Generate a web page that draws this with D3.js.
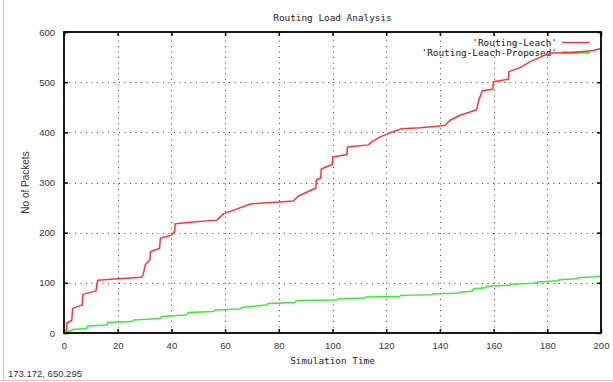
<!DOCTYPE html>
<html>
<head>
<meta charset="utf-8">
<script src="https://cdn.jsdelivr.net/npm/d3@7"></script>
<style>
  html, body { margin: 0; padding: 0; background: #fff; }
  svg { display: block; }
</style>
</head>
<body>
<script>
// Cumulative routing packets over simulation time
const leachTime = [1.0, 1.0, 2.9, 3.2, 6.8, 7.0, 11.9, 12.5, 20.0, 28.9, 29.5, 30.3, 32.0, 32.2, 35.6, 35.9, 39.8, 41.2, 41.4, 47.0, 56.9, 59.5, 64.3, 69.3, 74.2, 80.4, 85.4, 87.3, 92.2, 93.8, 94.0, 95.6, 95.8, 99.9, 100.1, 105.3, 105.6, 113.3, 114.6, 117.7, 121.4, 125.8, 132.6, 138.8, 141.9, 143.8, 147.5, 153.7, 154.4, 155.8, 159.7, 159.9, 165.5, 165.7, 169.8, 173.6, 179.1, 182.2, 189.7, 197.1, 200.0];
const leachPackets = [0, 20, 25, 49, 56, 77, 84, 105, 108, 111, 117, 136, 146, 162, 169, 189, 195, 202, 218, 221, 225, 238, 247, 257, 259, 261, 263, 273, 285, 289, 305, 309, 327, 336, 351, 356, 371, 375, 381, 391, 399, 407, 409, 412, 414, 424, 434, 445, 463, 483, 486, 501, 506, 521, 529, 541, 554, 558, 559, 563, 567];

const proposedTime = [1.0, 1.6, 3.5, 8.4, 8.7, 15.9, 16.3, 25.2, 25.8, 35.8, 36.4, 45.7, 46.3, 55.6, 56.2, 65.5, 66.2, 75.5, 76.1, 86.0, 86.6, 101.6, 102.0, 112.0, 112.5, 125.0, 125.5, 137.0, 137.5, 147.0, 147.5, 152.0, 152.5, 157.0, 157.5, 166.0, 166.5, 175.0, 175.5, 184.0, 184.5, 191.0, 191.5, 198.0, 200.0];
const proposedPackets = [0, 3, 7, 9, 14, 16, 21, 23, 26, 29, 33, 36, 41, 43, 46, 48, 51, 56, 59, 61, 65, 66, 68, 70, 72, 73, 75, 76, 78, 79, 81, 83, 88, 90, 93, 95, 97, 99, 101, 104, 106, 108, 110, 112, 113];

const xTicks = [0, 20, 40, 60, 80, 100, 120, 140, 160, 180, 200];
const yTicks = [0, 100, 200, 300, 400, 500, 600];

const seriesNames = ["'Routing-Leach'", "'Routing-Leach-Proposed'"];
const seriesColors = ["#ff3535", "#3aea3a"];

const titleText = "Routing Load Analysis";
const xLabel = "Simulation Time";
const yLabel = "No of Packets";
const statusText = "173.172, 650.295";

const W = 613, H = 382;
const plotLeft = 64, plotRight = 601, plotTop = 32, plotBottom = 333;

const svg = d3.select("body").append("svg")
  .attr("width", W).attr("height", H);

const x = d3.scaleLinear().domain([0, 200]).range([plotLeft, plotRight]);
const y = d3.scaleLinear().domain([0, 600]).range([plotBottom, plotTop]);

const mono = "'DejaVu Sans Mono', 'Liberation Mono', monospace";
const sans = "'Liberation Sans', Arial, sans-serif";

// window frame lines
svg.append("line").attr("x1", 3.5).attr("x2", 3.5).attr("y1", 0).attr("y2", 381)
  .attr("stroke", "#c8c8c8").attr("stroke-width", 1);
svg.append("line").attr("x1", 0).attr("x2", W).attr("y1", 380.5).attr("y2", 380.5)
  .attr("stroke", "#c8c8c8").attr("stroke-width", 1);

// dotted grid
const grid = svg.append("g").attr("stroke", "#444").attr("stroke-width", 1)
  .attr("stroke-dasharray", "1,4.5");
grid.selectAll("line.gx").data(xTicks.slice(1, -1)).enter().append("line")
  .attr("x1", d => Math.round(x(d)) + 0.5).attr("x2", d => Math.round(x(d)) + 0.5)
  .attr("y1", plotBottom).attr("y2", plotTop);
grid.selectAll("line.gy").data(yTicks.slice(1, -1)).enter().append("line")
  .attr("y1", d => Math.round(y(d)) + 0.5).attr("y2", d => Math.round(y(d)) + 0.5)
  .attr("x1", plotLeft).attr("x2", plotRight);

// axes: labels outside, inward ticks on all four sides
const xAxis = d3.axisBottom(x).tickValues(xTicks).tickSize(-4).tickPadding(9)
  .tickFormat(d3.format("d"));
const yAxis = d3.axisLeft(y).tickValues(yTicks).tickSize(-4).tickPadding(9)
  .tickFormat(d3.format("d"));
const xTop = d3.axisTop(x).tickValues(xTicks).tickSize(-4).tickFormat("");
const yRight = d3.axisRight(y).tickValues(yTicks).tickSize(-4).tickFormat("");

function styleAxis(g) {
  g.select(".domain").remove();
  g.selectAll(".tick line").attr("stroke", "#000").attr("stroke-width", 1.5);
  g.selectAll(".tick text").attr("fill", "#333")
    .style("font-family", sans).style("font-size", "9.5px");
}
svg.append("g").attr("transform", `translate(0,${plotBottom})`).call(xAxis).call(styleAxis);
svg.append("g").attr("transform", `translate(${plotLeft},0)`).call(yAxis).call(styleAxis);
svg.append("g").attr("transform", `translate(0,${plotTop})`).call(xTop).call(styleAxis);
svg.append("g").attr("transform", `translate(${plotRight},0)`).call(yRight).call(styleAxis);

// data lines
const series = [
  leachTime.map((t, i) => [t, leachPackets[i]]),
  proposedTime.map((t, i) => [t, proposedPackets[i]])
];
const line = d3.line().x(d => x(d[0])).y(d => y(d[1]));

// legend samples (drawn first so the red curve crosses over them)
const legend = svg.append("g");
seriesNames.forEach((name, i) => {
  const ly = 42 + i * 10;
  legend.append("text").attr("x", 557).attr("y", ly + 3.5)
    .attr("text-anchor", "end").attr("fill", "#111")
    .style("font-family", mono).style("font-size", "9.4px")
    .text(name);
  legend.append("line").attr("x1", 562).attr("x2", 590)
    .attr("y1", ly + 0.5).attr("y2", ly + 0.5)
    .attr("stroke", seriesColors[i]).attr("stroke-width", i === 1 ? 2.5 : 1.3);
});

svg.append("g").selectAll("path").data(series).enter().append("path")
  .attr("d", line)
  .attr("fill", "none")
  .attr("stroke", (d, i) => seriesColors[i])
  .attr("stroke-width", 1.5)
  .attr("stroke-linejoin", "round");

// plot border
svg.append("rect").attr("x", plotLeft).attr("y", plotTop)
  .attr("width", plotRight - plotLeft).attr("height", plotBottom - plotTop)
  .attr("fill", "none").attr("stroke", "#000").attr("stroke-width", 1.8);

// titles
svg.append("text").attr("x", (plotLeft + plotRight) / 2).attr("y", 21)
  .attr("text-anchor", "middle").attr("fill", "#222")
  .style("font-family", mono).style("font-size", "9.4px")
  .text(titleText);
svg.append("text").attr("x", (plotLeft + plotRight) / 2).attr("y", 364)
  .attr("text-anchor", "middle").attr("fill", "#222")
  .style("font-family", mono).style("font-size", "9.4px")
  .text(xLabel);
svg.append("text")
  .attr("transform", `translate(29,${(plotTop + plotBottom) / 2}) rotate(-90)`)
  .attr("text-anchor", "middle").attr("fill", "#333")
  .style("font-family", sans).style("font-size", "10px")
  .text(yLabel);

// pointer coordinate readout
svg.append("text").attr("x", 8).attr("y", 377)
  .attr("fill", "#333")
  .style("font-family", sans).style("font-size", "9.5px")
  .text(statusText);
</script>
</body>
</html>
